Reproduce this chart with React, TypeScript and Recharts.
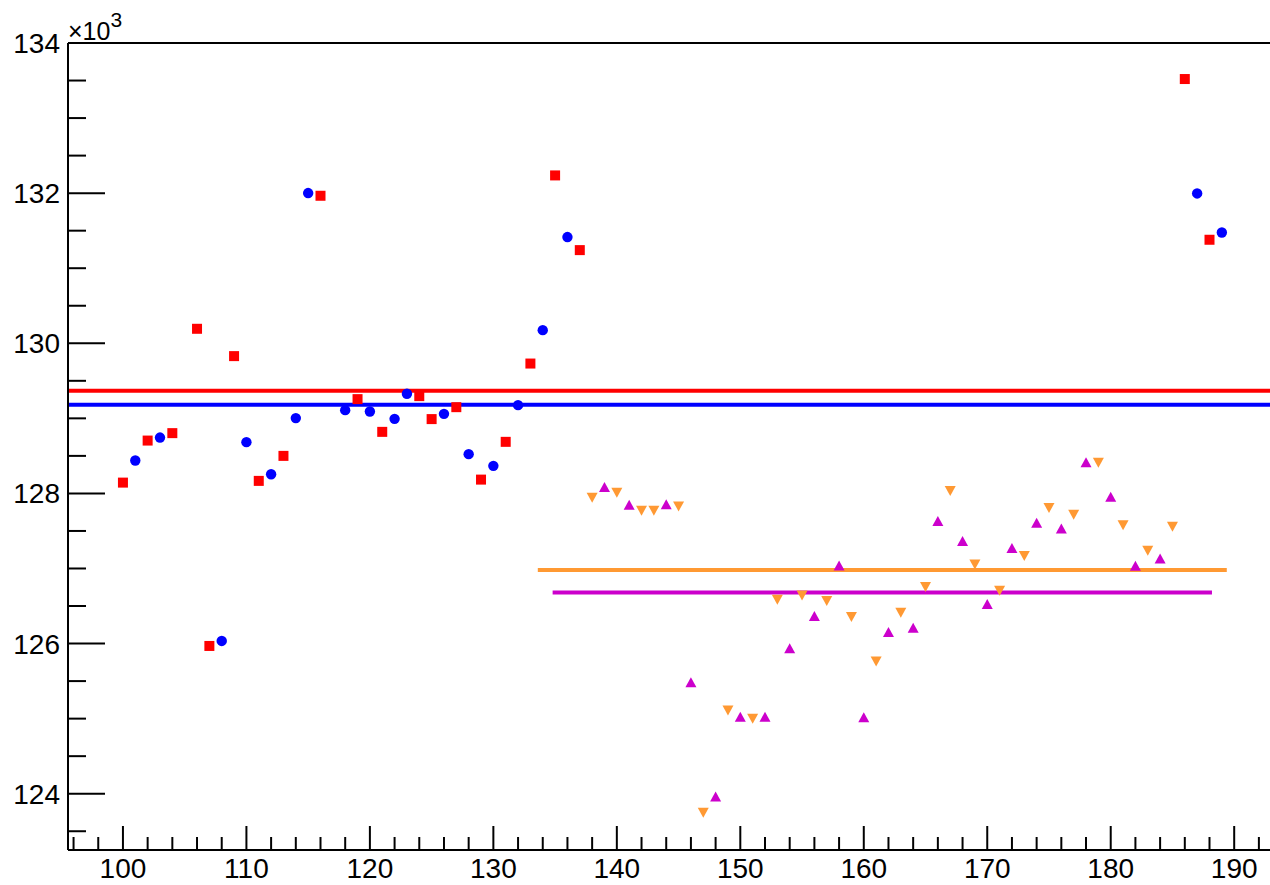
import {
  ComposedChart,
  Scatter,
  XAxis,
  YAxis,
  ReferenceLine,
} from "recharts";

// red squares
const redX = [100, 102, 104, 106, 107, 109, 111, 113, 116, 119, 121, 124, 125, 127, 129, 131, 133, 135, 137, 186, 188];
const redY = [
  128144, 128704, 128803, 130193, 125968, 129829, 128167, 128500, 131965, 129256, 128820,
  129296, 128990, 129149, 128184, 128687, 129730, 132236, 131241, 133520, 131379,
];

// blue circles
const blueX = [101, 103, 108, 110, 112, 114, 115, 118, 120, 122, 123, 126, 128, 130, 132, 134, 136, 187, 189];
const blueY = [
  128438, 128744, 126035, 128683, 128256, 129003, 132001, 129109, 129091, 128993,
  129327, 129060, 128523, 128367, 129176, 130175, 131415, 131996, 131476,
];

// magenta triangles (up)
const magentaX = [139, 141, 144, 146, 148, 150, 152, 154, 156, 158, 160, 162, 164, 166, 168, 170, 172, 174, 176, 178, 180, 182, 184];
const magentaY = [
  128078, 127843, 127850, 125479, 123956, 125018, 125018, 125932, 126359, 127034, 125013,
  126146, 126204, 127625, 127358, 126519, 127265, 127603, 127527, 128407, 127950, 127030, 127128,
];

// orange triangles (down)
const orangeX = [138, 140, 142, 143, 145, 147, 149, 151, 153, 155, 157, 159, 161, 163, 165, 167, 169, 171, 173, 175, 177, 179, 181, 183, 185];
const orangeY = [
  127950, 128017, 127777, 127777, 127834, 123752, 125115, 125005, 126591, 126648, 126572,
  126359, 125768, 126417, 126759, 128038, 127061, 126711, 127172, 127812, 127724, 128416,
  127581, 127244, 127563,
];

// mean lines
const redMean = 129366;
const blueMean = 129180;
const orangeMean = 126980;
const orangeSpan = [133.6, 189.4];
const magentaMean = 126680;
const magentaSpan = [134.8, 188.2];

const xDomain = [95.55, 192.9];
const yDomain = [123250, 134000];

const xTicks = Array.from({ length: 49 }, (_, i) => 96 + i * 2);
const yTicks = Array.from({ length: 22 }, (_, i) => 123500 + i * 500);

const RED = "#ff0000";
const BLUE = "#0000ff";
const ORANGE = "#ff9933";
const MAGENTA = "#cc00cc";
const FONT = "'Liberation Sans', Arial, Helvetica, sans-serif";

const zip = (xs: number[], ys: number[]) => xs.map((x, i) => ({ x, y: ys[i] }));

const XTick = (props: any) => {
  const { x, y, payload } = props;
  const v = payload.value;
  const major = v % 10 === 0;
  return (
    <g>
      <line x1={x} x2={x} y1={y} y2={y - (major ? 24 : 13)} stroke="#000" strokeWidth={2} />
      {major && (
        <text x={x} y={y + 28} textAnchor="middle" fontSize={28} fontFamily={FONT} fill="#000">
          {v}
        </text>
      )}
    </g>
  );
};

const YTick = (props: any) => {
  const { x, y, payload } = props;
  const v = payload.value;
  const major = v % 2000 === 0;
  return (
    <g>
      <line x1={x} x2={x + (major ? 37 : 18)} y1={y} y2={y} stroke="#000" strokeWidth={2} />
      {major && (
        <text x={x - 8} y={y + 10} textAnchor="end" fontSize={28} fontFamily={FONT} fill="#000">
          {v / 1000}
        </text>
      )}
    </g>
  );
};

const square = (color: string) => (p: any) => (
  <rect x={p.cx - 5} y={p.cy - 5} width={10} height={10} fill={color} />
);
const circle = (color: string) => (p: any) => <circle cx={p.cx} cy={p.cy} r={5.2} fill={color} />;
const triUp = (color: string) => (p: any) => (
  <polygon
    points={`${p.cx},${p.cy - 5.5} ${p.cx - 5.5},${p.cy + 4.5} ${p.cx + 5.5},${p.cy + 4.5}`}
    fill={color}
  />
);
const triDown = (color: string) => (p: any) => (
  <polygon
    points={`${p.cx},${p.cy + 5.5} ${p.cx - 5.5},${p.cy - 4.5} ${p.cx + 5.5},${p.cy - 4.5}`}
    fill={color}
  />
);

export default function App() {
  return (
    <div style={{ position: "absolute", left: 0, top: 0, width: 1270, height: 885 }}>
      <ComposedChart
        width={1270}
        height={885}
        margin={{ top: 43, right: 0, bottom: 0, left: 0 }}
      >
        <XAxis
          type="number"
          dataKey="x"
          domain={xDomain}
          ticks={xTicks}
          interval={0}
          allowDataOverflow
          height={35}
          tickSize={0}
          tickMargin={0}
          tickLine={false}
          axisLine={{ stroke: "#000", strokeWidth: 2 }}
          tick={<XTick />}
        />
        <YAxis
          type="number"
          dataKey="y"
          domain={yDomain}
          ticks={yTicks}
          interval={0}
          allowDataOverflow
          width={68}
          tickSize={0}
          tickMargin={0}
          tickLine={false}
          axisLine={{ stroke: "#000", strokeWidth: 2 }}
          tick={<YTick />}
        />
        <ReferenceLine y={yDomain[1]} stroke="#000" strokeWidth={2} />
        <Scatter data={zip(redX, redY)} shape={square(RED)} isAnimationActive={false} />
        <Scatter data={zip(blueX, blueY)} shape={circle(BLUE)} isAnimationActive={false} />
        <Scatter data={zip(magentaX, magentaY)} shape={triUp(MAGENTA)} isAnimationActive={false} />
        <Scatter data={zip(orangeX, orangeY)} shape={triDown(ORANGE)} isAnimationActive={false} />
        <ReferenceLine y={redMean} stroke={RED} strokeWidth={4} />
        <ReferenceLine y={blueMean} stroke={BLUE} strokeWidth={4} />
        <ReferenceLine
          segment={[
            { x: magentaSpan[0], y: magentaMean },
            { x: magentaSpan[1], y: magentaMean },
          ]}
          stroke={MAGENTA}
          strokeWidth={4}
        />
        <ReferenceLine
          segment={[
            { x: orangeSpan[0], y: orangeMean },
            { x: orangeSpan[1], y: orangeMean },
          ]}
          stroke={ORANGE}
          strokeWidth={4}
        />
      </ComposedChart>
      <svg
        width={200}
        height={50}
        style={{ position: "absolute", left: 0, top: 0, pointerEvents: "none" }}
      >
        <text x={68} y={40} fontSize={25} fontFamily={FONT} fill="#000">
          <tspan>×10</tspan>
          <tspan dy={-13} fontSize={21}>
            3
          </tspan>
        </text>
      </svg>
    </div>
  );
}
